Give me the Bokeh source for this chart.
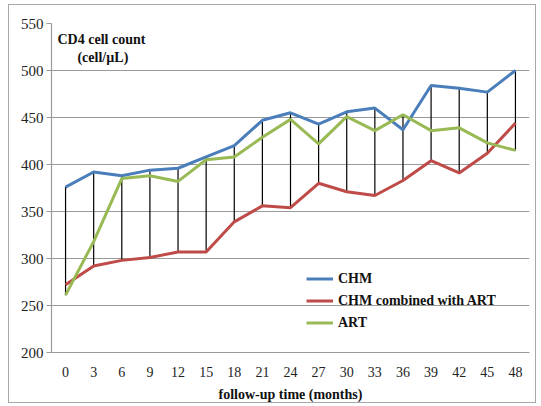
from bokeh.plotting import figure
from bokeh.models import FixedTicker, Label, Legend, LegendItem, Range1d
from bokeh.embed import file_html
from bokeh.resources import INLINE

months = [0, 3, 6, 9, 12, 15, 18, 21, 24, 27, 30, 33, 36, 39, 42, 45, 48]
chm = [376, 392, 388, 394, 396, 408, 420, 447, 455, 443, 456, 460, 437, 484, 481, 477, 500]
chm_art = [272, 292, 298, 301, 307, 307, 339, 356, 354, 380, 371, 367, 383, 404, 391, 412, 444]
art = [261, 318, 385, 388, 382, 405, 408, 429, 448, 422, 451, 436, 453, 436, 439, 423, 415]
y_ticks = [200, 250, 300, 350, 400, 450, 500, 550]
series_names = ["CHM", "CHM combined with ART", "ART"]
colors = ["#4a7ebb", "#be4b48", "#98b954"]

FONT = "Liberation Serif"

p = figure(width=528, height=399, output_backend="svg", toolbar_location=None,
           x_range=Range1d(-1.5, 49.5), y_range=Range1d(200, 550),
           min_border_left=42, min_border_right=8, min_border_top=18, min_border_bottom=51)
p.styles = {"border": "1px solid #a8a8a8", "margin-left": "8px", "margin-top": "4px"}
p.outline_line_color = None
p.xgrid.visible = False
p.ygrid.grid_line_color = "#9a9a9a"
p.ygrid.grid_line_width = 1.2
p.ygrid.ticker = FixedTicker(ticks=y_ticks)

lows = [min(a, b, c) for a, b, c in zip(chm, chm_art, art)]
highs = [max(a, b, c) for a, b, c in zip(chm, chm_art, art)]
p.segment(x0=months, y0=lows, x1=months, y1=highs, line_color="black", line_width=1.2)

renderers = []
for ys, col in zip([chm, chm_art, art], colors):
    r = p.line(months, ys, line_color=col, line_width=3)
    renderers.append(r)

legend = Legend(items=[LegendItem(label=n, renderers=[r]) for n, r in zip(series_names, renderers)],
                location=(255, 19), padding=0, margin=0, glyph_width=27, glyph_height=21,
                label_height=21, spacing=1, label_standoff=5,
                background_fill_alpha=0, border_line_color=None,
                label_text_font=FONT, label_text_font_style="bold", label_text_font_size="14px",
                label_text_color="#111")
p.add_layout(legend)

xa = p.xaxis[0]
xa.ticker = FixedTicker(ticks=months)
xa.major_tick_line_color = None
xa.minor_tick_line_color = None
xa.axis_line_color = "#9a9a9a"
xa.axis_line_width = 1.2
xa.major_label_text_font = FONT
xa.major_label_text_font_size = "14px"
xa.major_label_text_color = "#222"
xa.major_label_standoff = 8
xa.axis_label = "follow-up time (months)"
xa.axis_label_text_font = FONT
xa.axis_label_text_font_style = "bold"
xa.axis_label_text_font_size = "14px"
xa.axis_label_text_color = "#111"
xa.axis_label_standoff = 7

ya = p.yaxis[0]
ya.ticker = FixedTicker(ticks=y_ticks)
ya.axis_line_color = "#9a9a9a"
ya.axis_line_width = 1.2
ya.major_tick_line_color = "#9a9a9a"
ya.major_tick_out = 5
ya.major_tick_in = 0
ya.minor_tick_line_color = None
ya.major_label_text_font = FONT
ya.major_label_text_font_size = "15px"
ya.major_label_text_color = "#222"
ya.major_label_standoff = 3

p.add_layout(Label(x=-0.86, y=533, text="CD4 cell count", text_font=FONT, text_font_style="bold",
                   text_font_size="14px", text_baseline="middle", text_color="#111"))
p.add_layout(Label(x=1.27, y=514, text="(cell/µL)", text_font=FONT, text_font_style="bold",
                   text_font_size="14px", text_baseline="middle", text_color="#111"))

open("out.html", "w").write(file_html(p, INLINE))
